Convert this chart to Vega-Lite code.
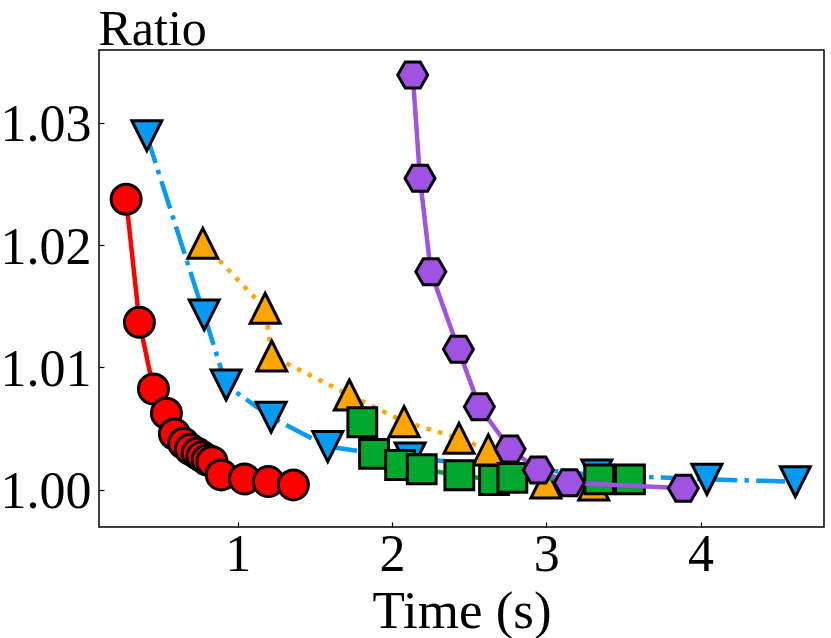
{
  "$schema": "https://vega.github.io/schema/vega-lite/v6.json",
  "autosize": "none",
  "width": 725,
  "height": 477,
  "padding": {"left": 99, "top": 50, "right": 7, "bottom": 111},
  "background": "white",
  "config": {
    "view": {"stroke": "black", "strokeWidth": 1.5},
    "axis": {
      "domain": false,
      "grid": false,
      "ticks": true,
      "tickColor": "black",
      "tickWidth": 1.2,
      "tickSize": -5,
      "labelFont": "Liberation Serif",
      "labelFontSize": 52,
      "labelColor": "black",
      "titleFont": "Liberation Serif",
      "titleFontSize": 53,
      "titleFontWeight": "normal",
      "titleColor": "black"
    }
  },
  "datasets": {
    "pts": [
      {"s": "s1", "x": 0.276, "y": 1.02374},
      {"s": "s1", "x": 0.362, "y": 1.01368},
      {"s": "s1", "x": 0.453, "y": 1.00823},
      {"s": "s1", "x": 0.537, "y": 1.00625},
      {"s": "s1", "x": 0.589, "y": 1.00455},
      {"s": "s1", "x": 0.649, "y": 1.00379},
      {"s": "s1", "x": 0.692, "y": 1.0033},
      {"s": "s1", "x": 0.736, "y": 1.00297},
      {"s": "s1", "x": 0.768, "y": 1.0027},
      {"s": "s1", "x": 0.801, "y": 1.00243},
      {"s": "s1", "x": 0.833, "y": 1.00229},
      {"s": "s1", "x": 0.893, "y": 1.00121},
      {"s": "s1", "x": 1.043, "y": 1.00088},
      {"s": "s1", "x": 1.198, "y": 1.00066},
      {"s": "s1", "x": 1.36, "y": 1.00039},
      {"s": "s2", "x": 0.41, "y": 1.02894},
      {"s": "s2", "x": 0.782, "y": 1.01428},
      {"s": "s2", "x": 0.924, "y": 1.00856},
      {"s": "s2", "x": 1.216, "y": 1.00592},
      {"s": "s2", "x": 1.583, "y": 1.00352},
      {"s": "s2", "x": 2.117, "y": 1.00259},
      {"s": "s2", "x": 3.327, "y": 1.0012},
      {"s": "s2", "x": 4.041, "y": 1.00085},
      {"s": "s2", "x": 4.614, "y": 1.00065},
      {"s": "s3", "x": 0.773, "y": 1.02014},
      {"s": "s3", "x": 1.177, "y": 1.01483},
      {"s": "s3", "x": 1.22, "y": 1.01093},
      {"s": "s3", "x": 1.723, "y": 1.00774},
      {"s": "s3", "x": 2.078, "y": 1.00556},
      {"s": "s3", "x": 2.434, "y": 1.0042},
      {"s": "s3", "x": 2.624, "y": 1.00325},
      {"s": "s3", "x": 2.997, "y": 1.00054},
      {"s": "s3", "x": 3.307, "y": 1.00038},
      {"s": "s4", "x": 1.807, "y": 1.00551},
      {"s": "s4", "x": 1.883, "y": 1.00292},
      {"s": "s4", "x": 2.052, "y": 1.00202},
      {"s": "s4", "x": 2.192, "y": 1.00167},
      {"s": "s4", "x": 2.436, "y": 1.00118},
      {"s": "s4", "x": 2.661, "y": 1.00079},
      {"s": "s4", "x": 2.78, "y": 1.00096},
      {"s": "s4", "x": 3.343, "y": 1.00085},
      {"s": "s4", "x": 3.542, "y": 1.00085},
      {"s": "s5", "x": 2.134, "y": 1.0339},
      {"s": "s5", "x": 2.181, "y": 1.02546},
      {"s": "s5", "x": 2.251, "y": 1.01782},
      {"s": "s5", "x": 2.43, "y": 1.01148},
      {"s": "s5", "x": 2.566, "y": 1.00678},
      {"s": "s5", "x": 2.765, "y": 1.00333},
      {"s": "s5", "x": 2.948, "y": 1.00161},
      {"s": "s5", "x": 3.149, "y": 1.00057},
      {"s": "s5", "x": 3.888, "y": 1.00011}
    ]
  },
  "data": {"name": "pts"},
  "encoding": {
    "x": {
      "field": "x",
      "type": "quantitative",
      "scale": {"domain": [0.1, 4.8], "nice": false, "zero": false},
      "axis": {
        "values": [1, 2, 3, 4],
        "format": "d",
        "labelBaseline": "alphabetic",
        "labelPadding": 48,
        "title": "Time (s)",
        "titleBaseline": "alphabetic",
        "titleX": 362.5,
        "titleY": 100
      }
    },
    "y": {
      "field": "y",
      "type": "quantitative",
      "scale": {"domain": [0.99695, 1.03594], "nice": false, "zero": false},
      "axis": {
        "values": [1.0, 1.01, 1.02, 1.03],
        "format": ".2f",
        "labelBaseline": "alphabetic",
        "labelOffset": 18,
        "labelPadding": 13,
        "title": "Ratio",
        "titleFontSize": 50,
        "titleAngle": 0,
        "titleAlign": "left",
        "titleBaseline": "alphabetic",
        "titleX": -1,
        "titleY": -6
      }
    }
  },
  "layer": [
    {
      "transform": [{"filter": "datum.s == 's1'"}],
      "mark": {"type": "line", "color": "#ff0000", "strokeWidth": 4.5}
    },
    {
      "transform": [{"filter": "datum.s == 's1'"}],
      "mark": {"type": "point", "shape": "circle", "filled": true, "fill": "#ff0000", "stroke": "black", "strokeWidth": 3, "size": 900, "opacity": 1}
    },
    {
      "transform": [{"filter": "datum.s == 's2'"}],
      "mark": {"type": "line", "color": "#069af3", "strokeWidth": 4.5, "strokeDash": [28.8, 7.2, 4.5, 7.2]}
    },
    {
      "transform": [{"filter": "datum.s == 's2'"}],
      "mark": {"type": "point", "shape": "M-1,-1L1,-1L0,1Z", "filled": true, "fill": "#069af3", "stroke": "black", "strokeWidth": 3, "size": 900, "opacity": 1}
    },
    {
      "transform": [{"filter": "datum.s == 's3'"}],
      "mark": {"type": "line", "color": "#ffa500", "strokeWidth": 4.5, "strokeDash": [4.5, 7.4]}
    },
    {
      "transform": [{"filter": "datum.s == 's3'"}],
      "mark": {"type": "point", "shape": "M0,-1L1,1L-1,1Z", "filled": true, "fill": "#ffa500", "stroke": "black", "strokeWidth": 3, "size": 900, "opacity": 1}
    },
    {
      "transform": [{"filter": "datum.s == 's4'"}],
      "mark": {"type": "line", "color": "#02a82e", "strokeWidth": 4.5}
    },
    {
      "transform": [{"filter": "datum.s == 's4'"}],
      "mark": {"type": "point", "shape": "square", "filled": true, "fill": "#02a82e", "stroke": "black", "strokeWidth": 3, "size": 830, "opacity": 1}
    },
    {
      "transform": [{"filter": "datum.s == 's5'"}],
      "mark": {"type": "line", "color": "#a052e2", "strokeWidth": 4.5}
    },
    {
      "transform": [{"filter": "datum.s == 's5'"}],
      "mark": {"type": "point", "shape": "M-1,0L-0.5,-0.866L0.5,-0.866L1,0L0.5,0.866L-0.5,0.866Z", "filled": true, "fill": "#a052e2", "stroke": "black", "strokeWidth": 3, "size": 900, "opacity": 1}
    }
  ]
}
